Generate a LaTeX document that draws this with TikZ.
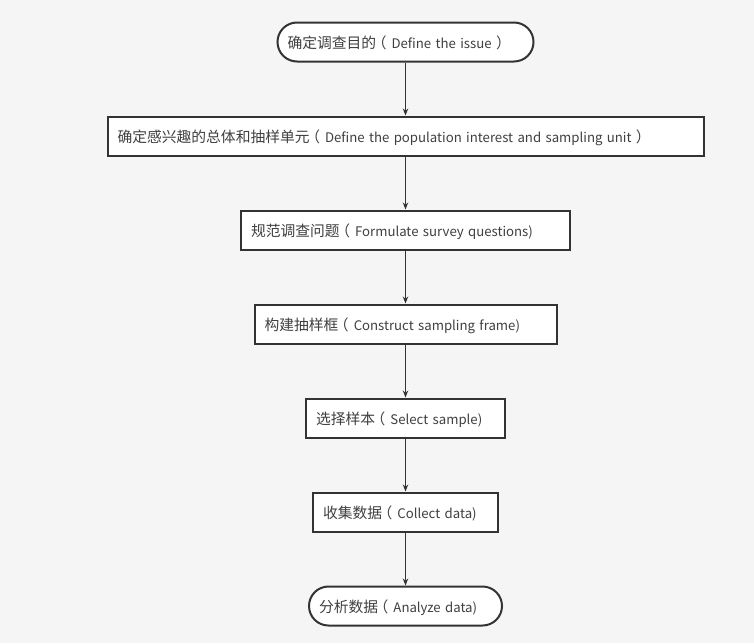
\documentclass[tikz,border=0pt]{standalone}
\usepackage{fontspec}
\setmainfont{Noto Sans CJK SC}
\newfontfamily\cjk{Noto Sans CJK SC}[Scale=1.12]
\newcommand\lpar{\kern-0.3em（\kern5pt}
\usetikzlibrary{positioning,arrows.meta}
\definecolor{bggray}{HTML}{F5F5F5}
\definecolor{linegray}{HTML}{333333}
\definecolor{textgray}{HTML}{404040}
\begin{document}
\begin{tikzpicture}[x=1pt,y=1pt,
    stepbox/.style={draw=linegray, line width=2pt, fill=white, text=textgray,
      minimum height=39pt, inner xsep=10pt, align=left,
      text height=15pt, text depth=1.2pt,
      font=\fontsize{13.2}{16}\selectfont},
    endbox/.style={stepbox, rounded corners=19.5pt},
    flow/.style={draw=linegray, line width=1.4pt, -{Stealth[length=7pt,width=5.5pt]}},
    node distance=53pt]
  \fill[bggray] (0,0) rectangle (754,-643);
  \useasboundingbox (0,0) rectangle (754,-643);
  \node[endbox, text width=236pt] (issue) at (405.5,-42)
    {{\cjk 确定调查目的\lpar}Define the issue {\cjk ）}};
  \node[stepbox, text width=576pt, below=of issue] (population)
    {{\cjk 确定感兴趣的总体和抽样单元\lpar}Define the population interest and sampling unit {\cjk ）}};
  \node[stepbox, text width=309pt, below=of population] (questions)
    {{\cjk 规范调查问题\lpar}Formulate survey questions)};
  \node[stepbox, text width=282pt, below=of questions] (frame)
    {{\cjk 构建抽样框\lpar}Construct sampling frame)};
  \node[stepbox, text width=179pt, below=of frame] (sample)
    {{\cjk 选择样本\lpar}Select sample)};
  \node[stepbox, text width=165pt, below=of sample] (collect)
    {{\cjk 收集数据\lpar}Collect data)};
  \node[endbox, text width=173pt, below=of collect] (analyze)
    {{\cjk 分析数据\lpar}Analyze data)};
  \draw[flow] (issue) -- (population);
  \draw[flow] (population) -- (questions);
  \draw[flow] (questions) -- (frame);
  \draw[flow] (frame) -- (sample);
  \draw[flow] (sample) -- (collect);
  \draw[flow] (collect) -- (analyze);
\end{tikzpicture}
\end{document}
